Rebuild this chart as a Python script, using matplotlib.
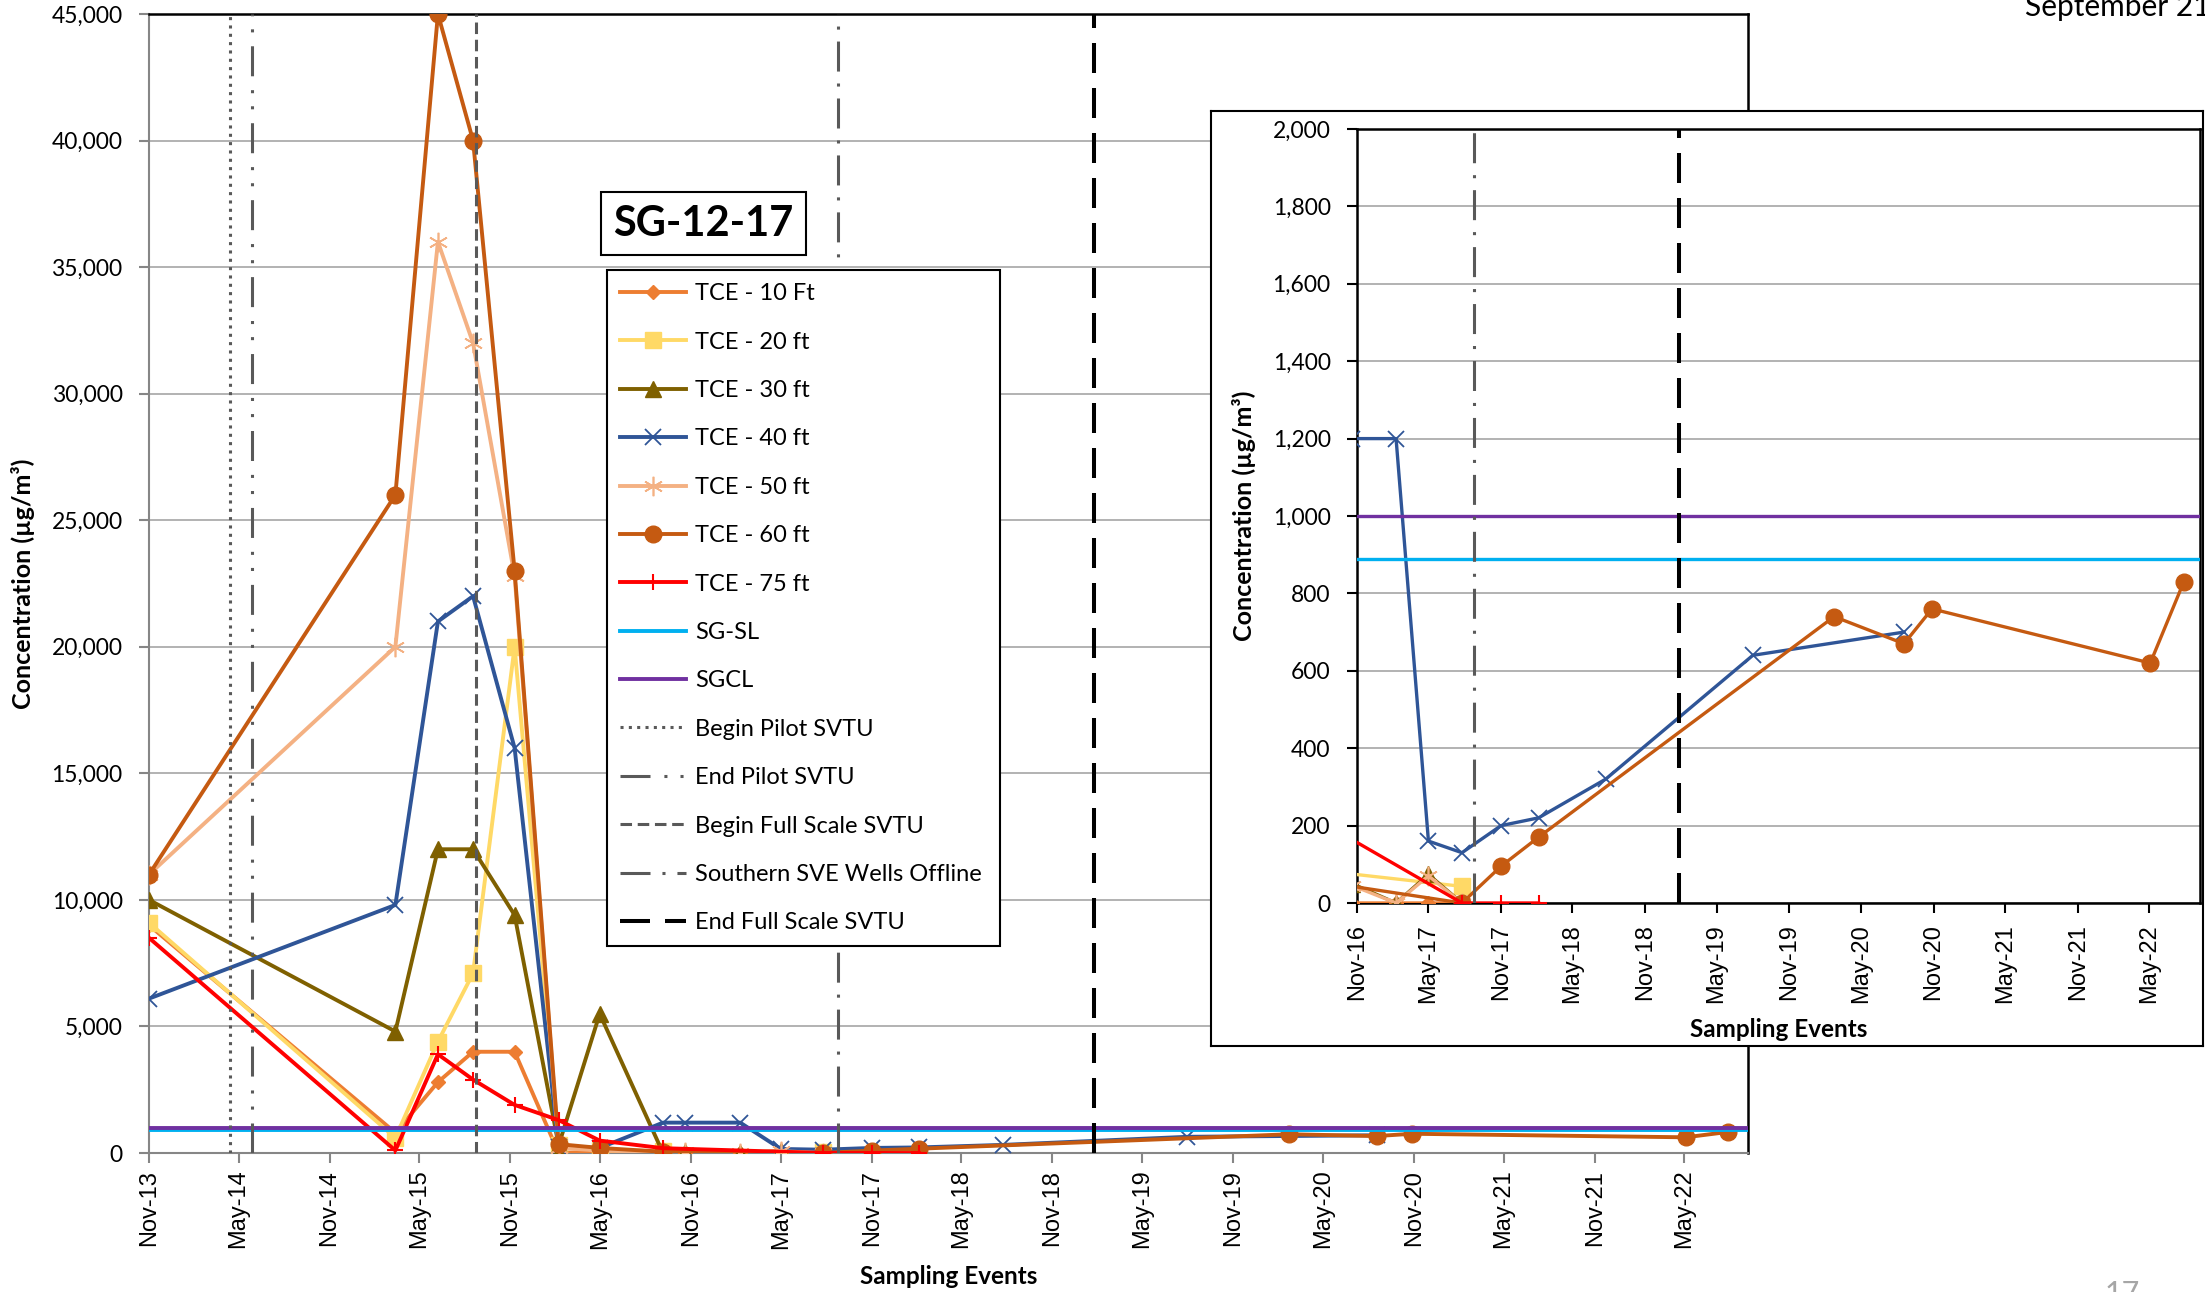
import matplotlib
matplotlib.use("Agg")
import matplotlib.pyplot as plt
import matplotlib.dates as mdates
from matplotlib.ticker import MultipleLocator, FuncFormatter
import pandas as pd

plt.rcParams['lines.scale_dashes'] = False

# --- Sampling data ---
DATES_10 = ["2013-11-01", "2015-03-14", "2015-06-08", "2015-08-18", "2015-11-10", "2016-02-07",
            "2016-04-30", "2016-09-05", "2016-10-20", "2017-02-08", "2017-05-01", "2017-07-25"]
TCE_10 = [9000, 800, 2800, 4000, 4000, 0, 50, 0, 0, 0, 0, 0]

DATES_20 = ["2013-11-01", "2015-03-14", "2015-06-08", "2015-08-18", "2015-11-10", "2016-02-07",
            "2016-04-30", "2016-09-05", "2017-07-25"]
TCE_20 = [9100, 600, 4400, 7100, 20000, 300, 100, 80, 43]

DATES_30 = ["2013-11-01", "2015-03-14", "2015-06-08", "2015-08-18", "2015-11-10", "2016-02-07",
            "2016-04-30", "2016-09-05", "2016-10-20", "2017-02-08", "2017-05-01", "2017-07-25"]
TCE_30 = [10000, 4800, 12000, 12000, 9400, 300, 5500, 0, 50, 0, 74, 0]

DATES_40 = ["2013-11-01", "2015-03-14", "2015-06-08", "2015-08-18", "2015-11-10", "2016-02-07",
            "2016-04-30", "2016-09-05", "2016-10-20", "2017-02-08", "2017-05-01", "2017-07-25",
            "2017-11-01", "2018-02-04", "2018-07-24", "2019-08-01", "2020-08-18"]
TCE_40 = [6100, 9800, 21000, 22000, 16000, 250, 200, 1200, 1200, 1200, 160, 130,
          200, 220, 320, 640, 700]

DATES_50 = DATES_30
TCE_50 = [11000, 20000, 36000, 32000, 22800, 200, 100, 40, 45, 0, 70, 0]

DATES_60 = ["2013-11-01", "2015-03-14", "2015-06-08", "2015-08-18", "2015-11-10", "2016-02-07",
            "2016-04-30", "2016-09-05", "2017-07-25", "2017-11-01", "2018-02-04", "2020-02-23",
            "2020-08-18", "2020-10-28", "2022-05-04", "2022-07-28"]
TCE_60 = [11000, 26000, 45000, 40000, 23000, 350, 200, 50, 0, 95, 170, 740,
          670, 760, 620, 830]

DATES_75 = ["2013-11-01", "2015-03-14", "2015-06-08", "2015-08-18", "2015-11-10", "2016-02-07",
            "2016-04-30", "2016-09-05", "2017-07-25", "2017-11-01", "2018-02-04"]
TCE_75 = [8500, 100, 3900, 2900, 1900, 1300, 490, 190, 0, 0, 0]

SG_SL = 890
SGCL = 1000

# --- Remediation milestones ---
BEGIN_PILOT = "2014-04-14"
END_PILOT = "2014-05-29"
BEGIN_FULL = "2015-08-24"
SVE_OFFLINE = "2017-08-25"
END_FULL = "2019-01-25"

SERIES = [
    ("TCE - 10 Ft", DATES_10, TCE_10, dict(color="#ED7D31", marker="D", ms=7)),
    ("TCE - 20 ft", DATES_20, TCE_20, dict(color="#FFD966", marker="s", ms=11)),
    ("TCE - 30 ft", DATES_30, TCE_30, dict(color="#7F6000", marker="^", ms=12)),
    ("TCE - 40 ft", DATES_40, TCE_40, dict(color="#2F5597", marker="x", ms=12, mew=1.3)),
    ("TCE - 50 ft", DATES_50, TCE_50, dict(color="#F4B183", marker=(6, 2, 0), ms=14, mew=1.2)),
    ("TCE - 60 ft", DATES_60, TCE_60, dict(color="#C55A11", marker="o", ms=12)),
    ("TCE - 75 ft", DATES_75, TCE_75, dict(color="#FF0000", marker="+", ms=11, mew=1.5)),
]

GRAY = "#595959"
CALIBRI = "Lato"
ARIAL = "Liberation Sans"

W, H = 2205, 1292
XMIN, XMAX = pd.Timestamp("2013-11-01"), pd.Timestamp("2022-09-07")


def draw(ax, lw, vlines):
    for label, d, v, style in SERIES:
        ax.plot(pd.to_datetime(d), v, label=label, lw=lw, zorder=3, **style)
    ax.axhline(SG_SL, color="#00B0F0", lw=lw, label="SG-SL", zorder=4)
    ax.axhline(SGCL, color="#7030A0", lw=lw, label="SGCL", zorder=4)
    styles = {
        "Begin Pilot SVTU": (BEGIN_PILOT, GRAY, 2.2, (0, (2.2, 3.8))),
        "End Pilot SVTU": (END_PILOT, GRAY, 2.2, (0, (21.6, 10, 2.2, 9.4, 2.2, 10))),
        "Begin Full Scale SVTU": (BEGIN_FULL, GRAY, 2.2, (0, (8.3, 4.1))),
        "Southern SVE Wells Offline": (SVE_OFFLINE, GRAY, 2.2, (0, (21.6, 8.6, 2.2, 8.6))),
        "End Full Scale SVTU": (END_FULL, "black", 2.9, (0, (21.6, 10.8))),
    }
    for name in vlines:
        x, c, w, ls = styles[name]
        ax.axvline(pd.Timestamp(x), color=c, lw=w, ls=ls, label=name, zorder=5)
    ax.set_xlim(XMIN, XMAX)
    ax.xaxis.set_major_locator(mdates.MonthLocator(bymonth=[5, 11], bymonthday=1))
    ax.xaxis.set_major_formatter(mdates.DateFormatter("%b-%y"))
    ax.yaxis.set_major_formatter(FuncFormatter(lambda v, p: f"{v:,.0f}"))
    ax.grid(axis="y", color="#A6A6A6", lw=1.2)
    ax.set_axisbelow(True)
    for t in ax.get_xticklabels():
        t.set_rotation(90)
        t.set_fontfamily(ARIAL)
        t.set_fontsize(17)
    for t in ax.get_yticklabels():
        t.set_fontfamily(CALIBRI)
        t.set_fontsize(16.5)


fig = plt.figure(figsize=(W / 100, H / 100), dpi=100)

# --- Main chart ---
ax = fig.add_axes([149 / W, 1 - 1153 / H, 1599 / W, 1139 / H])
draw(ax, 2.8, ["Begin Pilot SVTU", "End Pilot SVTU", "Begin Full Scale SVTU",
               "Southern SVE Wells Offline", "End Full Scale SVTU"])
ax.set_ylim(0, 45000)
ax.yaxis.set_major_locator(MultipleLocator(5000))
ax.tick_params(axis="both", direction="out", length=7, color="#868686", width=1.5)
ax.tick_params(axis="y", pad=12)
ax.tick_params(axis="x", pad=5)
for s in ["left", "bottom"]:
    ax.spines[s].set_color("#868686")
    ax.spines[s].set_linewidth(1.5)
for s in ["top", "right"]:
    ax.spines[s].set_color("black")
    ax.spines[s].set_linewidth(1.8)
ax.set_ylabel("Concentration (µg/m³)", fontsize=18, fontweight="bold", family=CALIBRI, labelpad=12)
ax.set_xlabel("Sampling Events", fontsize=17.5, fontweight="bold", family=CALIBRI, labelpad=12)

leg = ax.legend(loc="upper left", bbox_to_anchor=(0.2864, 0.1826, 0.2457, 0.5924), mode="expand",
                borderaxespad=0, fancybox=False, framealpha=1, edgecolor="black",
                prop={"family": CALIBRI, "size": 17}, handlelength=2.8, labelspacing=1.16,
                handletextpad=0.4, borderpad=0.55)
leg.get_frame().set_linewidth(1.5)
leg.set_zorder(10)

ax.text(0.3468, 0.816, "SG-12-17", transform=ax.transAxes, ha="center", va="center",
        fontsize=30, fontweight="bold", family=CALIBRI, zorder=10,
        bbox=dict(boxstyle="square,pad=0.3", fc="white", ec="black", lw=1.5))

# --- Inset frame and zoomed chart ---
frame = fig.add_axes([1211 / W, 1 - 1046 / H, 992 / W, 935 / H], zorder=5)
frame.set_xticks([])
frame.set_yticks([])
for s in frame.spines.values():
    s.set_linewidth(1.5)
    s.set_color("black")

inset = fig.add_axes([1357 / W, 1 - 903 / H, 843 / W, 774 / H], zorder=6)
draw(inset, 2.4, ["Southern SVE Wells Offline", "End Full Scale SVTU"])
inset.set_xlim(pd.Timestamp("2016-11-01"), XMAX)
inset.set_ylim(0, 2000)
inset.yaxis.set_major_locator(MultipleLocator(200))
inset.tick_params(axis="both", direction="out", length=7, color="black", width=1.5)
inset.tick_params(axis="y", pad=12)
inset.tick_params(axis="x", pad=8)
for s in inset.spines.values():
    s.set_color("black")
    s.set_linewidth(1.8)
inset.set_ylabel("Concentration (µg/m³)", fontsize=18, fontweight="bold", family=CALIBRI, labelpad=12)
inset.set_xlabel("Sampling Events", fontsize=17.5, fontweight="bold", family=CALIBRI, labelpad=11)

# --- Page decorations ---
fig.text(2025 / W, 1 - 16 / H, "September 21, 2022", fontsize=21.5, family=CALIBRI, va="baseline")
fig.text(2105 / W, 1 - 1280 / H, "17", fontsize=22, family=CALIBRI, color="#A6A6A6", va="top")

fig.savefig("out.png", dpi=100)
